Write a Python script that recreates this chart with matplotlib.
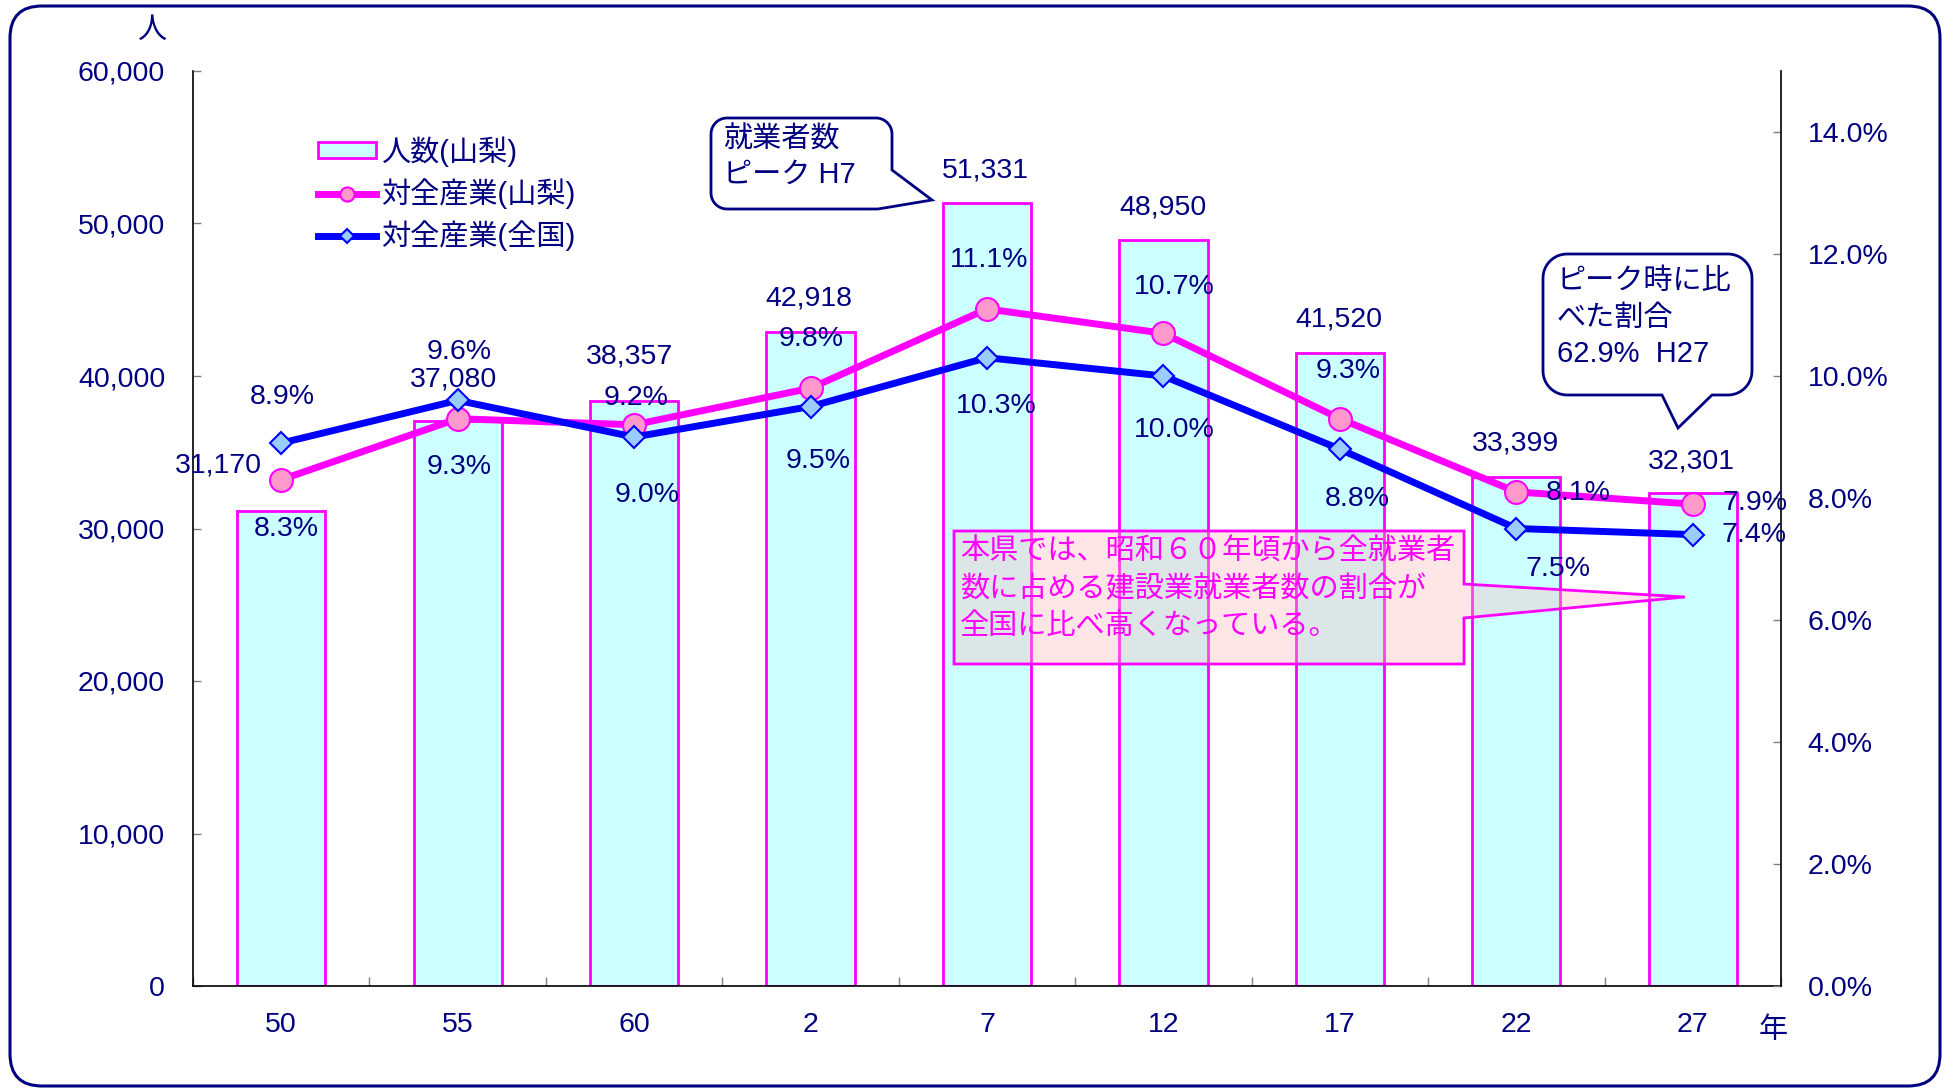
import matplotlib
matplotlib.use('Agg')
import matplotlib.pyplot as plt
import numpy as np
from matplotlib.patches import FancyBboxPatch, PathPatch, Patch
from matplotlib.path import Path
from matplotlib.lines import Line2D
from matplotlib.ticker import FuncFormatter, FixedLocator

plt.rcParams['font.family'] = ['Liberation Sans', 'Noto Sans CJK JP', 'DejaVu Sans']

# ---------------- data ----------------
years = ['50', '55', '60', '2', '7', '12', '17', '22', '27']
workers = [31170, 37080, 38357, 42918, 51331, 48950, 41520, 33399, 32301]
share_yamanashi = [8.3, 9.3, 9.2, 9.8, 11.1, 10.7, 9.3, 8.1, 7.9]
share_national = [8.9, 9.6, 9.0, 9.5, 10.3, 10.0, 8.8, 7.5, 7.4]
left_ticks = [0, 10000, 20000, 30000, 40000, 50000, 60000]
right_ticks = [0, 2, 4, 6, 8, 10, 12, 14]
legend_labels = ['人数(山梨)', '対全産業(山梨)', '対全産業(全国)']
callout_peak = ['就業者数', 'ピーク H7']
callout_ratio = ['ピーク時に比', 'べた割合', '62.9%  H27']
note_lines = ['本県では、昭和６０年頃から全就業者',
              '数に占める建設業就業者数の割合が',
              '全国に比べ高くなっている。']

# ---------------- style ----------------
NAVY = '#000080'
MAG = '#FF00FF'
BLUE = '#0000FF'
FS = 20.5
CJK_FS = 21

W, H = 1950, 1088
DPI = 100
fig = plt.figure(figsize=(W / DPI, H / DPI), dpi=DPI)
fig.patch.set_facecolor('white')

L, R, T, B = 193, 1781, 71, 986
ax = fig.add_axes([L / W, 1 - B / H, (R - L) / W, (B - T) / H])
ax2 = ax.twinx()

x = np.arange(len(years))
ax.bar(x, workers, width=0.5, color='#CCFFFF', edgecolor=MAG, linewidth=2, zorder=2)
ax.set_xlim(-0.5, len(years) - 0.5)
ax.set_ylim(0, 60000)
ax2.set_ylim(0, 15)

ax2.plot(x, share_yamanashi, color=MAG, lw=5, marker='o', ms=16.5,
         mfc='#FF99CC', mec=MAG, mew=1.5, zorder=3)
ax2.plot(x, share_national, color=BLUE, lw=5, marker='D', ms=11.5,
         mfc='#99CCFF', mec=BLUE, mew=1.5, zorder=4)

# axes / ticks
for a in (ax, ax2):
    a.spines['top'].set_visible(False)
ax.spines['right'].set_visible(False)
ax2.spines['left'].set_visible(False)
ax2.spines['bottom'].set_visible(False)
for s in ('left', 'bottom'):
    ax.spines[s].set_color('black')
    ax.spines[s].set_linewidth(1.2)
ax2.spines['right'].set_color('black')
ax2.spines['right'].set_linewidth(1.2)

ax.set_yticks(left_ticks)
ax.yaxis.set_major_formatter(FuncFormatter(lambda v, p: f'{int(v):,}'))
ax2.set_yticks(right_ticks)
ax2.yaxis.set_major_formatter(FuncFormatter(lambda v, p: f'{v:.1f}%'))
ax.tick_params(axis='y', direction='in', length=6, width=1, color='#808080',
               labelcolor=NAVY, labelsize=FS, pad=20)
ax2.tick_params(axis='y', direction='in', length=6, width=1, color='#808080',
                labelcolor=NAVY, labelsize=FS, pad=19)
ax.set_xticks(x)
ax.set_xticklabels(years)
ax.tick_params(axis='x', which='major', length=0, labelcolor=NAVY, labelsize=FS, pad=19)
ax.xaxis.set_minor_locator(FixedLocator(np.arange(-0.5, len(years), 1.0)))
ax.tick_params(axis='x', which='minor', direction='in', length=6.5, width=1, color='#808080')

# ---------------- data labels ----------------
K = 0.72  # pixels -> points


def lab(text, xi, yv, dx, dy, ha='center', trans=None):
    ax2.annotate(text, xy=(xi, yv), xycoords=trans if trans is not None else ax2.transData,
                 xytext=(dx * K, -dy * K), textcoords='offset points',
                 ha=ha, va='center', fontsize=FS, color=NAVY, zorder=6)


bar_off = [(-19, -45, 'right'), (-4, -41, 'center'), (-5, -45, 'center'),
           (-2, -33, 'center'), (-2, -33, 'center'), (0, -32, 'center'),
           (-1, -33, 'center'), (-1, -33, 'center'), (-1, -32, 'center')]
yam_off = [(5, 49, 'center'), (1.5, 48, 'center'), (1.5, -27, 'center'),
           (0.6, -49, 'center'), (1.8, -49, 'center'), (11, -46, 'center'),
           (8.4, -48, 'center'), (29, 1, 'left'), (30, -1, 'left')]
nat_off = [(0.8, -46, 'center'), (1.4, -48, 'center'), (12.7, 58, 'center'),
           (7.6, 55, 'center'), (9.2, 48, 'center'), (11, 54, 'center'),
           (17.4, 49.5, 'center'), (42, 41, 'center'), (29, 0.5, 'left')]

for i in range(len(years)):
    dx, dy, ha = bar_off[i]
    lab(f'{workers[i]:,}', x[i], workers[i], dx, dy, ha, trans=ax.transData)
    dx, dy, ha = yam_off[i]
    lab(f'{share_yamanashi[i]:.1f}%', x[i], share_yamanashi[i], dx, dy, ha)
    dx, dy, ha = nat_off[i]
    lab(f'{share_national[i]:.1f}%', x[i], share_national[i], dx, dy, ha)

# ---------------- legend ----------------
handles = [Patch(facecolor='#CCFFFF', edgecolor=MAG, linewidth=2),
           Line2D([], [], color=MAG, lw=5, marker='o', ms=16.5, mfc='#FF99CC', mec=MAG, mew=1.5),
           Line2D([], [], color=BLUE, lw=5, marker='D', ms=11.5, mfc='#99CCFF', mec=BLUE, mew=1.5)]
leg = ax2.legend(handles, legend_labels, loc='upper left',
                 bbox_to_anchor=(318 / W, 1 - 136 / H), bbox_transform=fig.transFigure,
                 frameon=False, borderpad=0, borderaxespad=0, fontsize=21,
                 handlelength=2.0, handleheight=0.45, handletextpad=0.15,
                 labelspacing=0.4, markerscale=0.62, labelcolor=NAVY)
leg.set_zorder(7)

# ---------------- overlay (pixel coordinates) ----------------
ov = fig.add_axes([0, 0, 1, 1])
ov.set_xlim(0, W)
ov.set_ylim(H, 0)
ov.axis('off')
ov.patch.set_alpha(0)
ov.set_zorder(10)

frame = FancyBboxPatch((10, 6), 1930, 1080, boxstyle='round,pad=0,rounding_size=32',
                       facecolor='none', edgecolor=NAVY, linewidth=2.2)
ov.add_patch(frame)


def arc(cx, cy, r, a0, a1, n=12):
    t = np.radians(np.linspace(a0, a1, n))
    return list(zip(cx + r * np.cos(t), cy + r * np.sin(t)))


def poly_patch(pts, **kw):
    verts = list(pts) + [pts[0]]
    codes = [Path.MOVETO] + [Path.LINETO] * (len(pts) - 1) + [Path.CLOSEPOLY]
    return PathPatch(Path(verts, codes), **kw)


# callout 1
x0, y0, x1, y1, r = 711, 118, 892, 209, 16
pts = (arc(x0 + r, y0 + r, r, 180, 270) + arc(x1 - r, y0 + r, r, 270, 360)
       + [(x1, 170), (932, 200), (878, y1)] + arc(x0 + r, y1 - r, r, 90, 180))
ov.add_patch(poly_patch(pts, facecolor='white', edgecolor=NAVY, linewidth=2))
for j, t in enumerate(callout_peak):
    ov.text(723, 140 + 35 * j, t, ha='left', va='center', fontsize=CJK_FS, color=NAVY)

# callout 2
x0, y0, x1, y1, r = 1543, 254, 1752, 395, 24
pts = (arc(x0 + r, y0 + r, r, 180, 270) + arc(x1 - r, y0 + r, r, 270, 360)
       + arc(x1 - r, y1 - r, r, 0, 90)
       + [(1712, y1), (1678, 428), (1662, y1)] + arc(x0 + r, y1 - r, r, 90, 180))
ov.add_patch(poly_patch(pts, facecolor='white', edgecolor=NAVY, linewidth=2))
for j, t in enumerate(callout_ratio):
    ov.text(1557, 281 + 36.5 * j, t, ha='left', va='center', fontsize=CJK_FS, color=NAVY)

# note box
pts = [(954, 531), (1464, 531), (1464, 584), (1685, 597), (1464, 618), (1464, 664), (954, 664)]
ov.add_patch(poly_patch(pts, facecolor=(1.0, 0.72, 0.72, 0.35), edgecolor=MAG, linewidth=2))
for j, t in enumerate(note_lines):
    ov.text(960, 552 + 37 * j, t, ha='left', va='center', fontsize=CJK_FS, color=MAG)

# axis unit labels
ov.text(152, 30, '人', ha='center', va='center', fontsize=CJK_FS, color=NAVY)
ov.text(1773, 1030, '年', ha='center', va='center', fontsize=CJK_FS, color=NAVY)

fig.savefig('out.png', dpi=DPI, facecolor='white')
